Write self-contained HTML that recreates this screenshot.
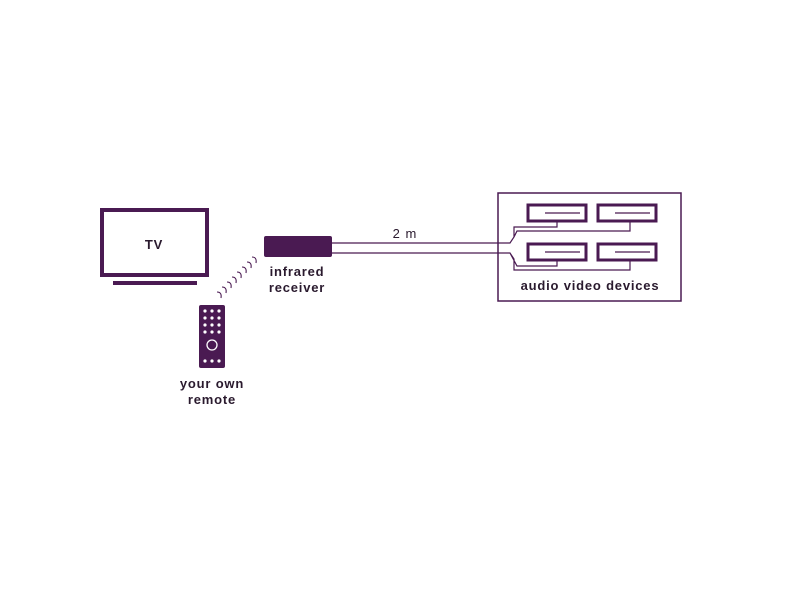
<!DOCTYPE html>
<html><head><style>body{margin:0;background:#fff}</style></head><body>
<svg width="800" height="600" xmlns="http://www.w3.org/2000/svg" font-family="Liberation Sans, sans-serif">
<rect width="800" height="600" fill="#fff"/>
<g fill="none" stroke="#4a1a52">
<rect x="102" y="210" width="105" height="65" stroke-width="4"/>
<rect x="113" y="281" width="84" height="4" fill="#4a1a52" stroke="none"/>
<rect x="498" y="193" width="183" height="108" stroke-width="1.5"/>
<g stroke-width="3">
<rect x="528" y="205" width="58" height="16"/><rect x="598" y="205" width="58" height="16"/>
<rect x="528" y="244" width="58" height="16"/><rect x="598" y="244" width="58" height="16"/>
</g>
<g stroke-width="1.2">
<path d="M545 213H580M615 213H650M545 252H580M615 252H650"/>
<path d="M332 243H510L514 237V227H557V221M514 237L517 231H630V221"/>
<path d="M332 253H510L514 259V270H630V260M510 253L517 266H557V260"/>
</g>
<g stroke-width="1.1" stroke="#4a1a52">
<path d="M217 292q5 0 4 6"/><path d="M222 287q5 0 4 6"/><path d="M227 282q5 0 4 6"/>
<path d="M232 277q5 0 4 6"/><path d="M237 272q5 0 4 6"/><path d="M242 267q5 0 4 6"/>
<path d="M247 262q5 0 4 6"/><path d="M252 257q5 0 4 6"/>
</g>
</g>
<rect x="264" y="236" width="68" height="21" rx="2" fill="#4a1a52"/>
<rect x="199" y="305" width="26" height="63" rx="2" fill="#4a1a52"/>
<g fill="#fff">
<circle cx="205" cy="311" r="1.6"/><circle cx="212" cy="311" r="1.6"/><circle cx="219" cy="311" r="1.6"/>
<circle cx="205" cy="318" r="1.6"/><circle cx="212" cy="318" r="1.6"/><circle cx="219" cy="318" r="1.6"/>
<circle cx="205" cy="325" r="1.6"/><circle cx="212" cy="325" r="1.6"/><circle cx="219" cy="325" r="1.6"/>
<circle cx="205" cy="332" r="1.6"/><circle cx="212" cy="332" r="1.6"/><circle cx="219" cy="332" r="1.6"/>
<circle cx="205" cy="361" r="1.6"/><circle cx="212" cy="361" r="1.6"/><circle cx="219" cy="361" r="1.6"/>
</g>
<circle cx="212" cy="345" r="5" fill="none" stroke="#fff" stroke-width="1.3"/>
<g fill="#2a1a2e" font-weight="bold" font-size="13" text-anchor="middle" letter-spacing="0.8">
<text x="154" y="249">TV</text>
<text x="297" y="276">infrared</text>
<text x="297" y="292">receiver</text>
<text x="212" y="388">your own</text>
<text x="212" y="404">remote</text>
<text x="590" y="290">audio video devices</text>
</g>
<text x="405" y="238" font-size="13" fill="#2a1a2e" text-anchor="middle" letter-spacing="1">2 m</text>
</svg>
</body></html>
